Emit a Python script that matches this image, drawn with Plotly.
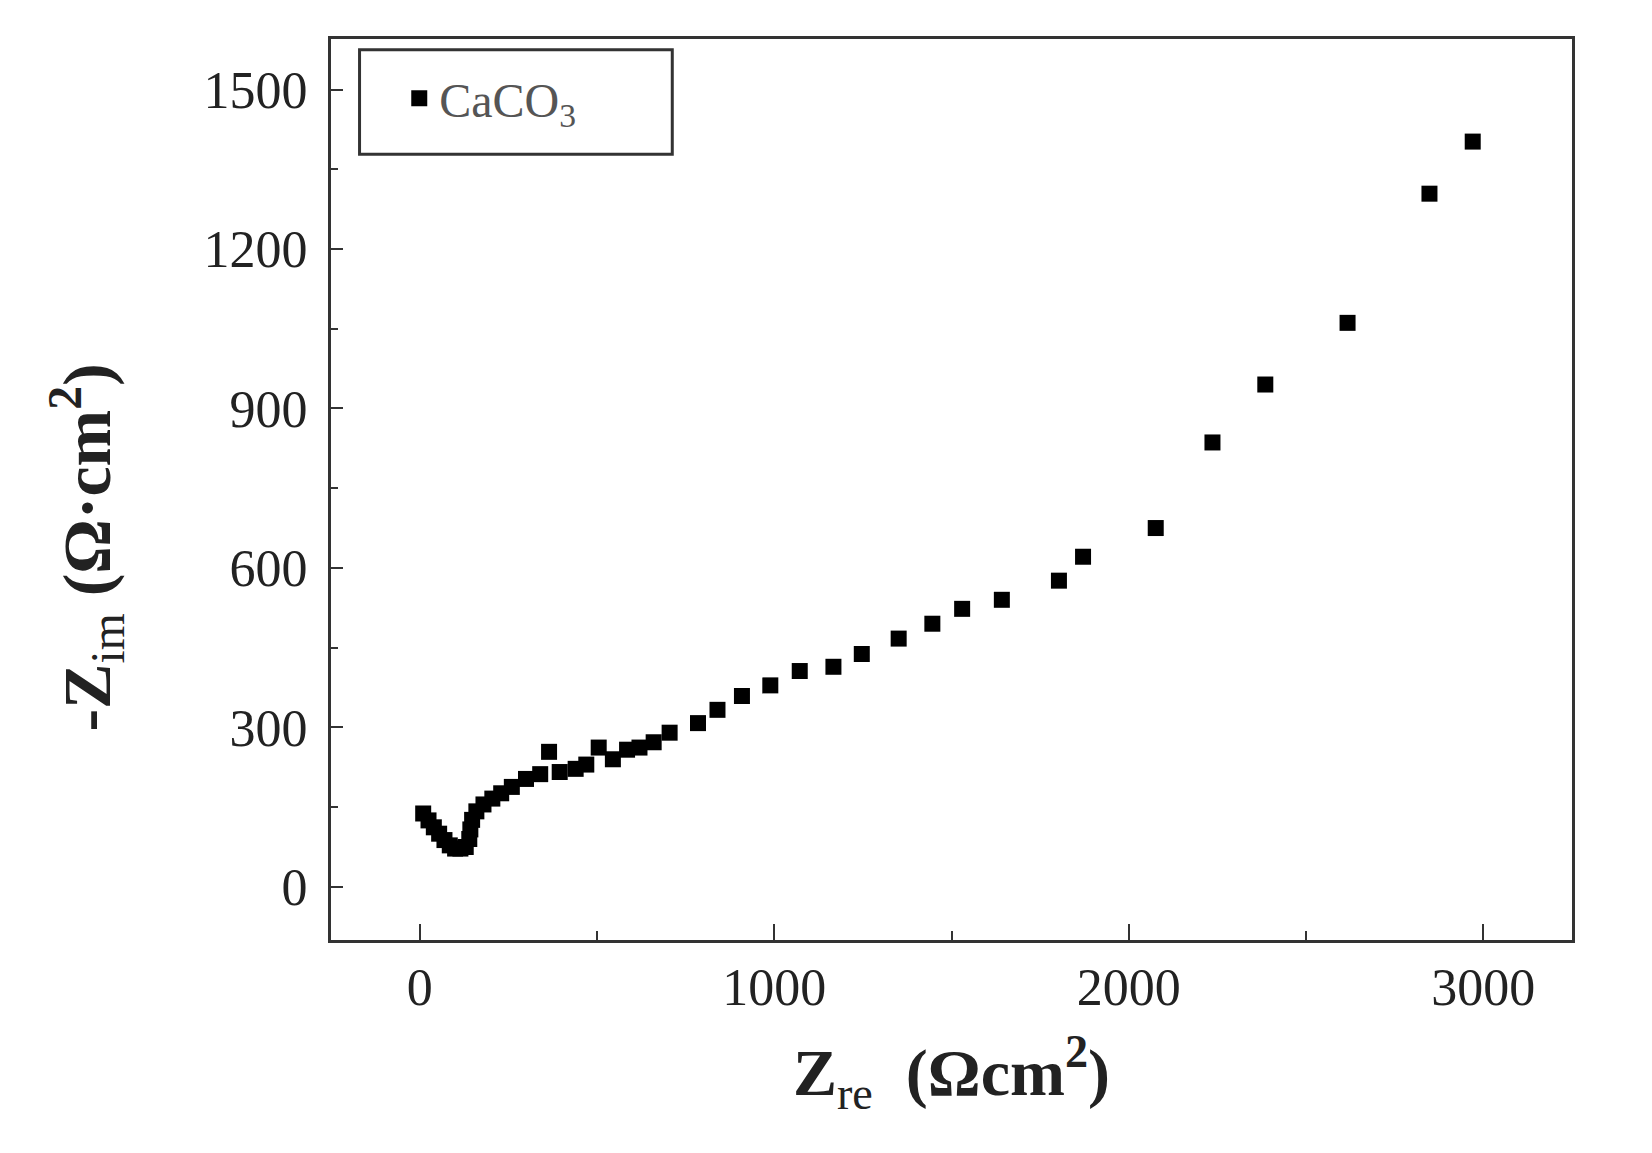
import plotly.graph_objects as go

# Nyquist data for CaCO3
z_re = [10, 25, 40, 55, 70, 85, 100, 115, 130, 140, 143, 148, 160,
        180, 205, 230, 260, 300, 340, 365, 395, 440, 470, 505, 545, 585,
        620, 660, 705, 785, 840, 909, 989, 1072, 1167, 1247, 1351, 1446,
        1530, 1642, 1803, 1871, 2076, 2236, 2385, 2617, 2848, 2970]
z_im = [138, 125, 112, 100, 88, 78, 72, 72, 75, 90, 108, 126, 142,
        155, 166, 176, 188, 203, 212, 254, 216, 222, 230, 262, 240, 258,
        262, 272, 290, 308, 333, 359, 379, 406, 414, 438, 467, 495,
        523, 540, 576, 621, 675, 836, 945, 1061, 1304, 1402]

serif = "Liberation Serif, Times New Roman, serif"

fig = go.Figure()
fig.add_trace(go.Scatter(
    x=z_re, y=z_im, mode="markers", name="CaCO<sub>3</sub>",
    marker=dict(symbol="square", size=16, color="black"),
))

axis_common = dict(
    showline=True, linecolor="#333333", linewidth=3, mirror=True,
    ticks="inside", tickcolor="#333333", tickwidth=2,
    showgrid=False, zeroline=False,
    tickfont=dict(family=serif, size=52, color="#222222"),
)

fig.update_layout(
    width=1652, height=1153,
    margin=dict(l=323, r=88, t=31, b=221),
    paper_bgcolor="white", plot_bgcolor="white",
    showlegend=True,
    legend=dict(
        x=0.055, y=0.976, xanchor="left", yanchor="top",
        borderwidth=0, bgcolor="rgba(0,0,0,0)",
        font=dict(family=serif, size=48, color="#555555"),
        itemsizing="trace", itemwidth=30,
    ),
    xaxis=dict(
        range=[-250, 3250], tickvals=[0, 1000, 2000, 3000], ticklen=16,
        minor=dict(tickvals=[500, 1500, 2500], ticks="inside", ticklen=9,
                   tickcolor="#333333", tickwidth=2),
        title=dict(text="<b>Z</b><sub>re</sub>  <b>(Ωcm<sup>2</sup>)</b>",
                   font=dict(family=serif, size=66, color="#222222"),
                   standoff=34),
        **axis_common,
    ),
    yaxis=dict(
        range=[-100, 1595], tickvals=[0, 300, 600, 900, 1200, 1500], ticklen=12,
        ticklabelstandoff=10,
        minor=dict(tickvals=[150, 450, 750, 1050, 1350], ticks="inside",
                   ticklen=7, tickcolor="#333333", tickwidth=2),
        **axis_common,
    ),
    annotations=[dict(
        text="<b>-Z</b><sub>im</sub> <b>(Ω·cm<sup>2</sup>)</b>",
        xref="paper", yref="paper", x=-0.197, y=0.435,
        xanchor="center", yanchor="middle", textangle=-90, showarrow=False,
        font=dict(family=serif, size=68, color="#222222"),
    )],
    shapes=[dict(
        type="rect", xref="paper", yref="paper",
        x0=0.023, x1=0.275, y0=0.872, y1=0.988,
        line=dict(color="#333333", width=3), fillcolor="rgba(0,0,0,0)",
    )],
)

fig.write_html("out.html")
